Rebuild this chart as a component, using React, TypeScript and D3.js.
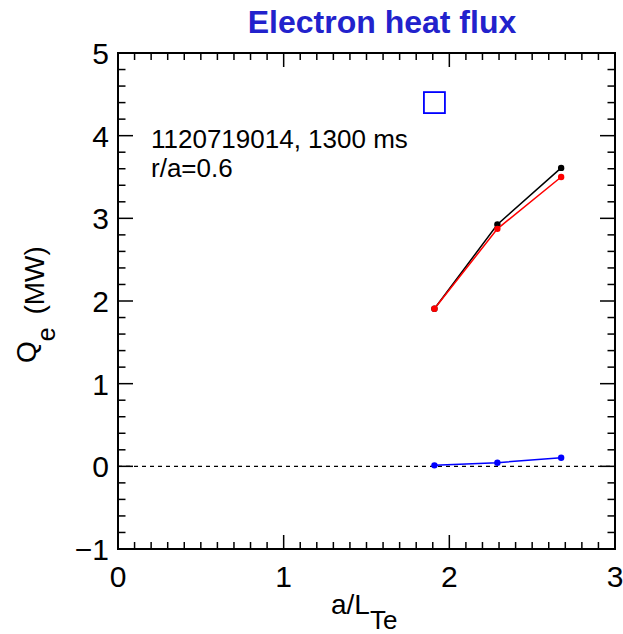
import React from "react";
import * as d3 from "d3";

const xVals = [1.91, 2.29, 2.675];
const totalQ = [1.906, 2.926, 3.61];
const redQ = [1.906, 2.873, 3.5];
const blueQ = [0.012, 0.044, 0.104];
const boxPoint = [1.91, 4.4];
const xTicks = [0, 1, 2, 3];
const yTicks = [-1, 0, 1, 2, 3, 4, 5];
const title = "Electron heat flux";
const note1 = "1120719014, 1300 ms";
const note2 = "r/a=0.6";

const W = 623, H = 634;
const L = 118, R = 615, T = 53, B = 549;

export default function App() {
  const x = d3.scaleLinear().domain([0, 3]).range([L, R]);
  const y = d3.scaleLinear().domain([-1, 5]).range([B, T]);
  const line = d3.line<[number, number]>().x(d => x(d[0])).y(d => y(d[1]));
  const font = "'Liberation Sans', Arial, Helvetica, sans-serif";

  const xMinor = d3.range(0, 3.0001, 0.1);
  const yMinor = d3.range(-1, 5.0001, 0.2);

  const series = [
    { vals: totalQ, color: "#000000" },
    { vals: redQ, color: "#ff0000" },
    { vals: blueQ, color: "#0000ff" },
  ];

  return (
    <svg width={W} height={H} style={{ position: "absolute", left: 0, top: 0, background: "#fff" }} fontFamily={font}>
      <rect x={0} y={0} width={W} height={H} fill="#fff" />
      <text x={382} y={33} textAnchor="middle" fontSize={32} fontWeight="bold" fill="#2222cc">{title}</text>

      {/* zero line */}
      <line x1={L} x2={R} y1={y(0)} y2={y(0)} stroke="#000" strokeWidth={1.3} strokeDasharray="4,4" />

      {/* ticks */}
      {xMinor.map((v, i) => {
        const major = Math.abs(v - Math.round(v)) < 1e-6;
        const len = major ? 14 : 7;
        return (
          <g key={"xt" + i}>
            <line x1={x(v)} x2={x(v)} y1={B} y2={B - len} stroke="#000" strokeWidth={1.5} />
            <line x1={x(v)} x2={x(v)} y1={T} y2={T + len} stroke="#000" strokeWidth={1.5} />
          </g>
        );
      })}
      {yMinor.map((v, i) => {
        const major = Math.abs(v - Math.round(v)) < 1e-6;
        const len = major ? 15 : 7.5;
        return (
          <g key={"yt" + i}>
            <line x1={L} x2={L + len} y1={y(v)} y2={y(v)} stroke="#000" strokeWidth={1.5} />
            <line x1={R} x2={R - len} y1={y(v)} y2={y(v)} stroke="#000" strokeWidth={1.5} />
          </g>
        );
      })}
      <rect x={L} y={T} width={R - L} height={B - T} fill="none" stroke="#000" strokeWidth={2} />

      {xTicks.map(v => (
        <text key={"xl" + v} x={x(v)} y={587} textAnchor="middle" fontSize={30} fill="#000">{v}</text>
      ))}
      {yTicks.map(v => (
        <text key={"yl" + v} x={109} y={y(v) + 11} textAnchor="end" fontSize={30} fill="#000">{v < 0 ? "\u2212" + Math.abs(v) : v}</text>
      ))}

      {/* axis titles */}
      <text x={331} y={614} fontSize={28} fill="#000">
        <tspan>a/L</tspan>
        <tspan dy={15} fontSize={26}>Te</tspan>
      </text>
      <text transform="translate(36,363) rotate(-90)" fontSize={28} fill="#000">
        <tspan>Q</tspan>
        <tspan dy={19} fontSize={25}>e</tspan>
        <tspan dy={-11} dx={5}> (MW)</tspan>
      </text>

      {/* annotations */}
      <text x={151} y={148} fontSize={26} fill="#000">{note1}</text>
      <text x={151} y={176.5} fontSize={26} fill="#000">{note2}</text>

      {/* box marker */}
      <rect x={x(boxPoint[0]) - 10.5} y={y(boxPoint[1]) - 10.5} width={21} height={21} fill="none" stroke="#0000ff" strokeWidth={1.8} />

      {series.map((s, si) => {
        const pts: [number, number][] = xVals.map((xv, i) => [xv, s.vals[i]]);
        return (
          <g key={"s" + si}>
            <path d={line(pts) || ""} fill="none" stroke={s.color} strokeWidth={1.5} />
            {pts.map((p, i) => (
              <circle key={i} cx={x(p[0])} cy={y(p[1])} r={3.2} fill={s.color} />
            ))}
          </g>
        );
      })}
    </svg>
  );
}
